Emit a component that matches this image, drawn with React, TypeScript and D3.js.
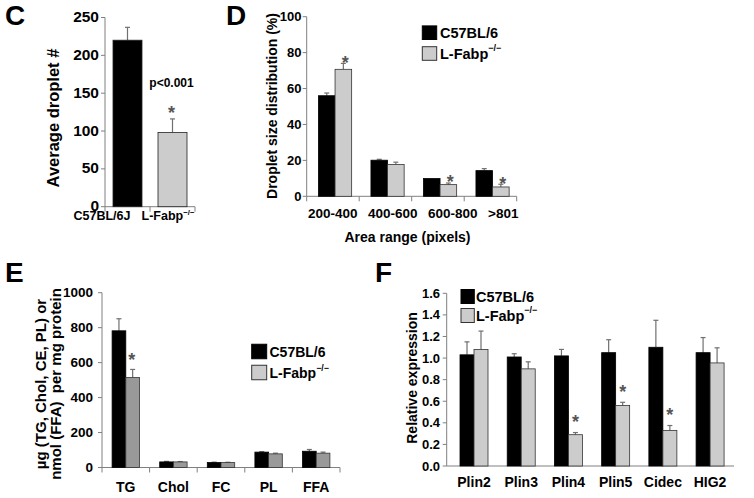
import React from "react";
import * as d3 from "d3";

const FONT = "'Liberation Sans', Arial, Helvetica, sans-serif";

// Legend / series labels
const WT_LABEL = "C57BL/6";
const KO_LABEL = "L-Fabp";
const KO_SUP = "−/−";

// Panel C
const cCategories = ["C57BL/6J", "L-Fabp"];
const cValues = [220, 98];
const cErrors = [17, 18];
const cTicks = [0, 50, 100, 150, 200, 250];

// Panel D
const dCategories = ["200-400", "400-600", "600-800", ">801"];
const dWT = [56, 20.1, 9.9, 14.3];
const dKO = [70.7, 17.7, 6.5, 5.2];
const dWTErr = [1.5, 0.5, 0, 1.1];
const dKOErr = [3.3, 1.3, 0.9, 1.5];
const dStars = [true, false, true, true];
const dTicks = [0, 20, 40, 60, 80, 100];

// Panel E
const eCategories = ["TG", "Chol", "FC", "PL", "FFA"];
const eWT = [782, 32, 28.6, 88, 93];
const eKO = [515, 32, 28, 78, 82];
const eWTErr = [69, 3, 2, 3, 10];
const eKOErr = [46, 2, 2, 4, 6];
const eStars = [true, false, false, false, false];
const eTicks = [0, 200, 400, 600, 800, 1000];

// Panel F
const fCategories = ["Plin2", "Plin3", "Plin4", "Plin5", "Cidec", "HIG2"];
const fWT = [1.03, 1.01, 1.02, 1.05, 1.1, 1.05];
const fKO = [1.08, 0.9, 0.29, 0.56, 0.33, 0.955];
const fWTErr = [0.12, 0.03, 0.06, 0.12, 0.25, 0.14];
const fKOErr = [0.17, 0.065, 0.02, 0.03, 0.045, 0.14];
const fStars = [false, false, true, true, true, false];
const fTicks = [0, 0.2, 0.4, 0.6, 0.8, 1.0, 1.2, 1.4, 1.6];

const AXIS = "#808080";
const ERR = "#707070";
const STAR = "#555";
const LIGHT = "#cccccc";
const MID = "#999999";

function KoText({ x, y, size, anchor = "start" }: any) {
  return (
    <text x={x} y={y} fontSize={size} fontWeight="bold" fontFamily={FONT} dominantBaseline="central" textAnchor={anchor}>
      <tspan>{KO_LABEL}</tspan>
      <tspan dy={-size * 0.35} fontSize={size * 0.62}>{KO_SUP}</tspan>
    </text>
  );
}

function Star({ x, y, size = 18 }: any) {
  return (
    <text x={x} y={y + size * 0.58} fontSize={size} fontFamily={FONT} fontWeight="bold" fill={STAR} textAnchor="middle">*</text>
  );
}

function ErrBar({ x, y0, y1 }: any) {
  return (
    <g stroke={ERR} strokeWidth={1.2}>
      <line x1={x} x2={x} y1={y0} y2={y1} />
      <line x1={x - 2.5} x2={x + 2.5} y1={y1} y2={y1} />
    </g>
  );
}

function Legend({ x, y1, y2, sw, sh, size, tx }: any) {
  return (
    <g>
      <rect x={x} y={y1 - sh / 2} width={sw} height={sh} fill="#000" stroke="#000" />
      <text x={tx} y={y1} fontSize={size} fontWeight="bold" fontFamily={FONT} dominantBaseline="central">{WT_LABEL}</text>
      <rect x={x} y={y2 - sh / 2} width={sw} height={sh} fill={LIGHT} stroke="#333" />
      <KoText x={tx} y={y2} size={size} />
    </g>
  );
}

function GroupPanel(p: any) {
  const y = d3.scaleLinear().domain([0, p.yMax]).range([p.yBottom, p.yTop]);
  const x = d3.scaleBand().domain(p.cats).range([p.x0, p.x1]);
  const bw = x.bandwidth();
  return (
    <g>
      <line x1={p.x0} x2={p.x0} y1={p.yBottom} y2={p.yTop} stroke={AXIS} />
      {p.ticks.map((t: number) => (
        <g key={t}>
          <line x1={p.x0 - 4} x2={p.x0} y1={y(t)} y2={y(t)} stroke={AXIS} />
          <text x={p.tickX} y={y(t)} textAnchor="end" dominantBaseline="central" fontSize={p.tickFont} fontWeight="bold" fontFamily={FONT}>
            {p.fmt ? p.fmt(t) : t}
          </text>
        </g>
      ))}
      <line x1={p.x0} x2={p.axisEnd} y1={p.yBottom} y2={p.yBottom} stroke={AXIS} />
      {p.boundaryTicks &&
        p.cats.map((c: string) => (
          <line key={c} x1={(x(c) as number) + bw} x2={(x(c) as number) + bw} y1={p.yBottom} y2={p.yBottom + 5} stroke={AXIS} />
        ))}
      {p.boundaryTicks && <line x1={p.x0} x2={p.x0} y1={p.yBottom} y2={p.yBottom + 5} stroke={AXIS} />}
      {p.cats.map((c: string, i: number) => {
        const gx = (x(c) as number) + p.barOff(bw);
        const kx = gx + p.barW;
        const wTop = y(p.wt[i]);
        const kTop = y(p.ko[i]);
        const kErrTop = y(p.ko[i] + p.koErr[i]);
        return (
          <g key={c}>
            {p.wtErr[i] > 0 && <ErrBar x={gx + p.barW / 2} y0={wTop} y1={y(p.wt[i] + p.wtErr[i])} />}
            {p.koErr[i] > 0 && <ErrBar x={kx + p.barW / 2} y0={kTop} y1={kErrTop} />}
            <rect x={gx} y={wTop} width={p.barW} height={p.yBottom - wTop} fill="#000" stroke="#000" strokeWidth={0.8} />
            <rect x={kx} y={kTop} width={p.barW} height={p.yBottom - kTop} fill={p.koFill} stroke="#333" strokeWidth={0.8} />
            {p.stars[i] && <Star x={kx + p.barW / 2 + p.starDx} y={kErrTop - p.starGap} />}
            <text
              x={p.labelX ? p.labelX(i) : gx + p.barW}
              y={p.labelY}
              textAnchor={p.labelX ? "start" : "middle"}
              dominantBaseline="central"
              fontSize={p.labelFont}
              fontWeight="bold"
              fontFamily={FONT}
            >
              {c}
            </text>
          </g>
        );
      })}
    </g>
  );
}

function PanelC() {
  const yBottom = 206.7;
  const y = d3.scaleLinear().domain([0, 250]).range([yBottom, 17.5]);
  const x = d3.scaleBand().domain(cCategories).range([105, 195]);
  const labelX = d3.scalePoint().domain(cCategories).range([102, 168]);
  const fills = ["#000", LIGHT];
  return (
    <g>
      <line x1={105} x2={105} y1={yBottom} y2={y(250)} stroke={AXIS} />
      {cTicks.map((t) => (
        <g key={t}>
          <line x1={101} x2={105} y1={y(t)} y2={y(t)} stroke={AXIS} />
          <text x={99} y={y(t) - 1} textAnchor="end" dominantBaseline="central" fontSize={15.5} fontWeight="bold" fontFamily={FONT}>{t}</text>
        </g>
      ))}
      <line x1={105} x2={195} y1={yBottom} y2={yBottom} stroke={AXIS} />
      <line x1={105} x2={105} y1={yBottom} y2={yBottom + 5} stroke={AXIS} />
      <line x1={150} x2={150} y1={yBottom} y2={yBottom + 5} stroke={AXIS} />
      <line x1={195} x2={195} y1={yBottom} y2={yBottom + 5} stroke={AXIS} />
      {cCategories.map((c, i) => {
        const bx = (x(c) as number) + 8;
        const top = y(cValues[i]);
        const et = y(cValues[i] + cErrors[i]);
        return (
          <g key={c}>
            <ErrBar x={bx + 14.5} y0={top} y1={et} />
            <rect x={bx} y={top} width={29} height={yBottom - top} fill={fills[i]} stroke="#222" strokeWidth={0.8} />
            {i === 1 && <Star x={bx + 14.5 - 1} y={et - 10} />}
            {i === 1 && (
              <text x={bx + 14.5 - 1} y={et - 36} textAnchor="middle" dominantBaseline="central" fontSize={12} fontWeight="bold" fontFamily={FONT}>
                p&lt;0.001
              </text>
            )}
          </g>
        );
      })}
      <text x={labelX(cCategories[0])} y={216} textAnchor="middle" dominantBaseline="central" fontSize={12.5} fontWeight="bold" fontFamily={FONT}>{cCategories[0]}</text>
      <KoText x={labelX(cCategories[1])} y={216} size={12.5} anchor="middle" />
      <text transform="translate(53.3,118) rotate(-90)" textAnchor="middle" dominantBaseline="central" fontSize={16.5} fontWeight="bold" fontFamily={FONT}>Average droplet #</text>
    </g>
  );
}

function PanelLetter({ x, y, t }: any) {
  return <text x={x} y={y} fontSize={28} fontWeight="bold" fontFamily={FONT}>{t}</text>;
}

export default function App() {
  const dLabelX = d3.scaleLinear().domain([0, 1]).range([308, 368]);
  return (
    <div style={{ position: "fixed", left: 0, top: 0, width: 754, height: 498, background: "#fff" }}>
      <svg width={754} height={498} viewBox="0 0 754 498" style={{ display: "block" }}>
        <rect width={754} height={498} fill="#fff" />
        <PanelLetter x={5} y={25} t="C" />
        <PanelLetter x={226} y={25} t="D" />
        <PanelLetter x={5} y={282} t="E" />
        <PanelLetter x={375} y={282} t="F" />

        <PanelC />

        <GroupPanel
          cats={dCategories} wt={dWT} ko={dKO} wtErr={dWTErr} koErr={dKOErr} stars={dStars}
          yMax={100} ticks={dTicks} yBottom={196.3} yTop={16.7} x0={306.7} x1={516.7} axisEnd={516.7}
          barOff={(bw: number) => bw / 2 - 14.5} barW={16.6} koFill={LIGHT} tickFont={13} tickX={301.5}
          labelFont={13.5} labelY={213.3} labelX={(i: number) => dLabelX(i)} boundaryTicks starGap={5} starDx={2}
        />
        <text x={407.5} y={236.7} textAnchor="middle" dominantBaseline="central" fontSize={14} fontWeight="bold" fontFamily={FONT}>Area range (pixels)</text>
        <text transform="translate(271.7,106) rotate(-90)" textAnchor="middle" dominantBaseline="central" fontSize={14} fontWeight="bold" fontFamily={FONT}>Droplet size distribution (%)</text>
        <Legend x={422.3} y1={32.7} y2={53.5} sw={14.4} sh={13.6} size={14.5} tx={440} />

        <GroupPanel
          cats={eCategories} wt={eWT} ko={eKO} wtErr={eWTErr} koErr={eKOErr} stars={eStars}
          yMax={1000} ticks={eTicks} yBottom={467.5} yTop={292.7} x0={102} x1={340} axisEnd={340}
          barOff={(bw: number) => bw / 2 - 13.7} barW={13.7} koFill={MID} tickFont={13.5} tickX={93}
          labelFont={14} labelY={486.7} boundaryTicks starGap={14} starDx={-1}
        />
        <text transform="translate(40,384) rotate(-90)" textAnchor="middle" dominantBaseline="central" fontSize={15} fontWeight="bold" fontFamily={FONT}>µg (TG, Chol, CE, PL) or</text>
        <text transform="translate(55,384) rotate(-90)" textAnchor="middle" dominantBaseline="central" fontSize={15} fontWeight="bold" fontFamily={FONT} style={{ whiteSpace: "pre" }}>nmol (FFA)  per mg protein</text>
        <Legend x={251.7} y1={351.5} y2={372.5} sw={15} sh={14.5} size={14} tx={269.5} />

        <GroupPanel
          cats={fCategories} wt={fWT} ko={fKO} wtErr={fWTErr} koErr={fKOErr} stars={fStars}
          yMax={1.6} ticks={fTicks} yBottom={466} yTop={293.3} x0={446.7} x1={730} axisEnd={734}
          barOff={() => 13.3} barW={14} koFill={LIGHT} tickFont={13} tickX={440} fmt={d3.format(".1f")}
          labelFont={14} labelY={482.3} boundaryTicks={false} starGap={15} starDx={0}
        />
        <text transform="translate(411.7,378) rotate(-90)" textAnchor="middle" dominantBaseline="central" fontSize={14} fontWeight="bold" fontFamily={FONT}>Relative expression</text>
        <Legend x={461} y1={296.5} y2={315.5} sw={13.3} sh={14} size={14.5} tx={476} />
      </svg>
    </div>
  );
}
